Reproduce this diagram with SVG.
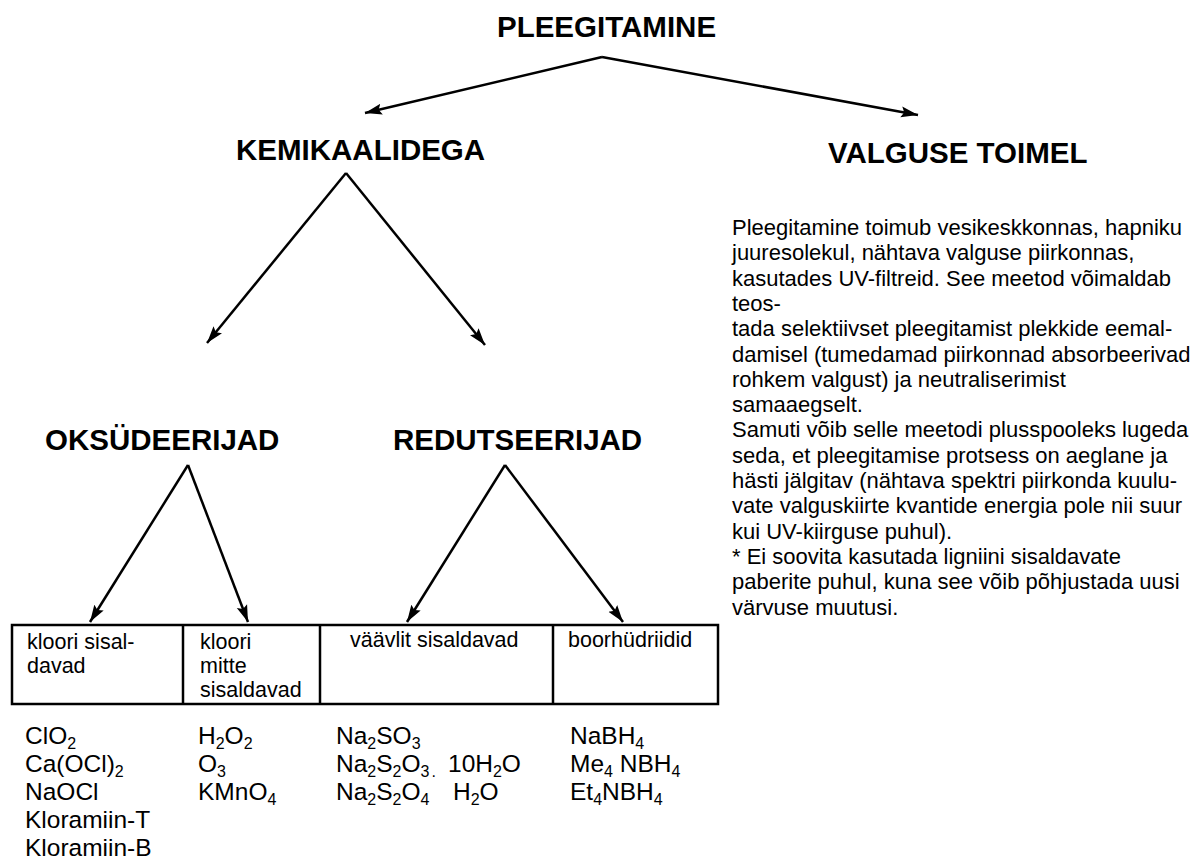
<svg xmlns="http://www.w3.org/2000/svg" width="1191" height="862" viewBox="0 0 1191 862">
  <style>
    text { font-family: "Liberation Sans", Arial, sans-serif; fill: #000; }
    .h { font-size: 29.5px; font-weight: bold; }
    .b { font-size: 21.5px; }
    .p { font-size: 22px; }
    .c { font-size: 24.5px; }
    .s { font-size: 16px; }
    .conn line { stroke: #000; stroke-width: 2.5; marker-end: url(#arr); }
    .box { fill: none; stroke: #000; stroke-width: 2.5; }
  </style>
  <defs>
    <marker id="arr" markerUnits="userSpaceOnUse" markerWidth="18" markerHeight="12" refX="17" refY="6" orient="auto">
      <path d="M0,0.5 L17,6 L0,11.5 L3,6 z" fill="#000"/>
    </marker>
  </defs>
  <rect width="1191" height="862" fill="#fff"/>

  <g id="n-pleegitamine"><text class="h" x="497" y="37">PLEEGITAMINE</text></g>
  <g id="n-kemikaalidega"><text class="h" x="236" y="160">KEMIKAALIDEGA</text></g>
  <g id="n-valguse"><text class="h" x="828" y="163">VALGUSE TOIMEL</text></g>
  <g id="n-oksudeerijad"><text class="h" x="45" y="450">OKSÜDEERIJAD</text></g>
  <g id="n-redutseerijad"><text class="h" x="393" y="450">REDUTSEERIJAD</text></g>

  <g class="conn" id="connectors">
    <line x1="602" y1="57" x2="365" y2="113"/>
    <line x1="602" y1="57" x2="918" y2="115"/>
    <line x1="346" y1="173" x2="207" y2="343"/>
    <line x1="346" y1="173" x2="485" y2="345"/>
    <line x1="188" y1="465" x2="90" y2="622"/>
    <line x1="188" y1="465" x2="248" y2="622"/>
    <line x1="505" y1="465" x2="407" y2="622"/>
    <line x1="505" y1="465" x2="623" y2="622"/>
  </g>

  <g id="n-table">
    <rect class="box" x="12" y="625" width="706" height="79"/>
    <line x1="183" y1="625" x2="183" y2="704" stroke="#000" stroke-width="2.5"/>
    <line x1="320" y1="625" x2="320" y2="704" stroke="#000" stroke-width="2.5"/>
    <line x1="553" y1="625" x2="553" y2="704" stroke="#000" stroke-width="2.5"/>
    <text class="b" x="27" y="649">kloori sisal-</text>
    <text class="b" x="27" y="673">davad</text>
    <text class="b" x="200" y="649">kloori</text>
    <text class="b" x="200" y="673">mitte</text>
    <text class="b" x="200" y="697">sisaldavad</text>
    <text class="b" x="350" y="647">väävlit sisaldavad</text>
    <text class="b" x="568" y="647">boorhüdriidid</text>
  </g>

  <g id="n-list1">
    <text class="c" x="25" y="744">ClO<tspan class="s" dy="5">2</tspan></text>
    <text class="c" x="25" y="772">Ca(OCl)<tspan class="s" dy="5">2</tspan></text>
    <text class="c" x="25" y="800">NaOCl</text>
    <text class="c" x="25" y="828">Kloramiin-T</text>
    <text class="c" x="25" y="856">Kloramiin-B</text>
  </g>
  <g id="n-list2">
    <text class="c" x="198" y="744">H<tspan class="s" dy="5">2</tspan><tspan dy="-5">O</tspan><tspan class="s" dy="5">2</tspan></text>
    <text class="c" x="198" y="772">O<tspan class="s" dy="5">3</tspan></text>
    <text class="c" x="198" y="800">KMnO<tspan class="s" dy="5">4</tspan></text>
  </g>
  <g id="n-list3">
    <text class="c" x="336" y="744">Na<tspan class="s" dy="5">2</tspan><tspan dy="-5">SO</tspan><tspan class="s" dy="5">3</tspan></text>
    <text class="c" x="336" y="772">Na<tspan class="s" dy="5">2</tspan><tspan dy="-5">S</tspan><tspan class="s" dy="5">2</tspan><tspan dy="-5">O</tspan><tspan class="s" dy="5">3</tspan><tspan class="s" dx="2">.</tspan></text>
    <text class="c" x="448" y="772">10H<tspan class="s" dy="5">2</tspan><tspan dy="-5">O</tspan></text>
    <text class="c" x="336" y="800">Na<tspan class="s" dy="5">2</tspan><tspan dy="-5">S</tspan><tspan class="s" dy="5">2</tspan><tspan dy="-5">O</tspan><tspan class="s" dy="5">4</tspan></text>
    <text class="c" x="453" y="800">H<tspan class="s" dy="5">2</tspan><tspan dy="-5">O</tspan></text>
  </g>
  <g id="n-list4">
    <text class="c" x="570" y="744">NaBH<tspan class="s" dy="5">4</tspan></text>
    <text class="c" x="570" y="772">Me<tspan class="s" dy="5">4</tspan><tspan dy="-5"> NBH</tspan><tspan class="s" dy="5">4</tspan></text>
    <text class="c" x="570" y="800">Et<tspan class="s" dy="5">4</tspan><tspan dy="-5">NBH</tspan><tspan class="s" dy="5">4</tspan></text>
  </g>

  <g id="n-paragraph">
    <text class="p" x="732" y="235">Pleegitamine toimub vesikeskkonnas, hapniku</text>
    <text class="p" x="732" y="260.3">juuresolekul, nähtava valguse piirkonnas,</text>
    <text class="p" x="732" y="285.6">kasutades UV-filtreid. See meetod võimaldab</text>
    <text class="p" x="732" y="310.9">teos-</text>
    <text class="p" x="732" y="336.2">tada selektiivset pleegitamist plekkide eemal-</text>
    <text class="p" x="732" y="361.5">damisel (tumedamad piirkonnad absorbeerivad</text>
    <text class="p" x="732" y="386.8">rohkem valgust) ja neutraliserimist</text>
    <text class="p" x="732" y="412.1">samaaegselt.</text>
    <text class="p" x="732" y="437.4">Samuti võib selle meetodi plusspooleks lugeda</text>
    <text class="p" x="732" y="462.7">seda, et pleegitamise protsess on aeglane ja</text>
    <text class="p" x="732" y="488">hästi jälgitav (nähtava spektri piirkonda kuulu-</text>
    <text class="p" x="732" y="513.3">vate valguskiirte kvantide energia pole nii suur</text>
    <text class="p" x="732" y="538.6">kui UV-kiirguse puhul).</text>
    <text class="p" x="732" y="563.9">* Ei soovita kasutada ligniini sisaldavate</text>
    <text class="p" x="732" y="589.2">paberite puhul, kuna see võib põhjustada uusi</text>
    <text class="p" x="732" y="614.5">värvuse muutusi.</text>
  </g>
</svg>
